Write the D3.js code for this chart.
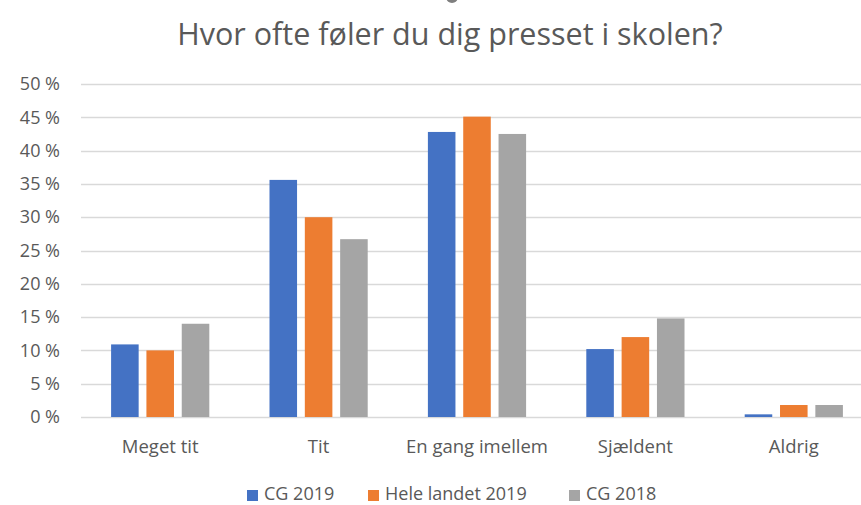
<!DOCTYPE html>
<html>
<head>
<meta charset="utf-8">
<script src="https://cdn.jsdelivr.net/npm/d3@7"></script>
<style>
  body { margin: 0; background: #fff; }
  text { font-family: "Open Sans", "Noto Sans", sans-serif; fill: #595959; }
</style>
</head>
<body>
<div id="container"></div>
<script>
/* DATA */
const categories = ["Meget tit", "Tit", "En gang imellem", "Sjældent", "Aldrig"];
const seriesNames = ["CG 2019", "Hele landet 2019", "CG 2018"];
const cg2019 = [10.9, 35.6, 42.8, 10.2, 0.4];
const heleLandet2019 = [10.0, 30.0, 45.1, 12.0, 1.8];
const cg2018 = [14.0, 26.7, 42.5, 14.8, 1.8];
const yTicks = [0, 5, 10, 15, 20, 25, 30, 35, 40, 45, 50];
const colors = ["#4472C4", "#ED7D31", "#A5A5A5"];

/* CONSTANTS */
const width = 861,
      height = 505,
      margin = {top: 84, bottom: 88, left: 81, right: -12};

const seriesValues = [cg2019, heleLandet2019, cg2018];

// flat rows: one per bar
const rows = [];
categories.forEach((c, i) => {
  seriesNames.forEach((s, j) => {
    rows.push({category: c, series: s, value: seriesValues[j][i]});
  });
});

const svg = d3.select("#container").append("svg")
  .attr("width", width)
  .attr("height", height);

// + SCALES
const x0 = d3.scaleBand()
  .domain(categories)
  .range([margin.left, width - margin.right])
  .paddingInner(0.38)
  .paddingOuter(0.19);

const x1 = d3.scaleBand()
  .domain(seriesNames)
  .range([0, x0.bandwidth()])
  .paddingInner(0.22);

const yScale = d3.scaleLinear()
  .domain([0, 50])
  .range([height - margin.bottom, margin.top]);

const colorScale = d3.scaleOrdinal()
  .domain(seriesNames)
  .range(colors);

// + GRIDLINES
svg.append("g")
  .selectAll("line")
  .data(yTicks)
  .join("line")
    .attr("x1", margin.left)
    .attr("x2", width - margin.right)
    .attr("y1", d => Math.round(yScale(d)) + 0.5)
    .attr("y2", d => Math.round(yScale(d)) + 0.5)
    .attr("stroke", "#d9d9d9")
    .attr("stroke-width", 1.3);

// + Y AXIS (labels only)
const yAxis = d3.axisLeft(yScale)
  .tickValues(yTicks)
  .tickSize(0)
  .tickPadding(0)
  .tickFormat(d => d + " %");

svg.append("g")
  .attr("transform", `translate(${60},0)`)
  .call(yAxis)
  .call(g => g.select(".domain").remove())
  .selectAll("text")
    .attr("font-family", null)
    .attr("fill", null)
    .style("font-size", "18px");

// + BARS
svg.append("g")
  .selectAll("rect")
  .data(rows)
  .join("rect")
    .attr("x", d => x0(d.category) + x1(d.series))
    .attr("width", x1.bandwidth())
    .attr("y", d => yScale(d.value))
    .attr("height", d => yScale(0) - yScale(d.value))
    .attr("fill", d => colorScale(d.series));

// + X AXIS (category labels)
const xAxis = d3.axisBottom(x0).tickSize(0).tickPadding(0);
svg.append("g")
  .attr("transform", `translate(0,${yScale(0)})`)
  .call(xAxis)
  .call(g => g.select(".domain").remove())
  .selectAll("text")
    .attr("font-family", null)
    .attr("fill", null)
    .attr("dy", null)
    .attr("y", 36)
    .style("font-size", "18.5px");

// + TITLE
svg.append("text")
  .attr("x", 450)
  .attr("y", 45)
  .attr("text-anchor", "middle")
  .style("font-size", "30.5px")
  .text("Hvor ofte føler du dig presset i skolen?");

// small clipped shape at top edge
svg.append("circle")
  .attr("cx", 452)
  .attr("cy", -3)
  .attr("r", 6)
  .attr("fill", "#7f7f7f");

// + LEGEND
const legendX = [247, 368, 569];
const legend = svg.append("g")
  .selectAll("g")
  .data(seriesNames)
  .join("g")
    .attr("transform", (d, i) => `translate(${legendX[i]},${490})`);

legend.append("rect")
  .attr("width", 11)
  .attr("height", 11)
  .attr("fill", d => colorScale(d));

legend.append("text")
  .attr("x", 17)
  .attr("y", 10)
  .style("font-size", "18px")
  .text(d => d);
</script>
</body>
</html>
